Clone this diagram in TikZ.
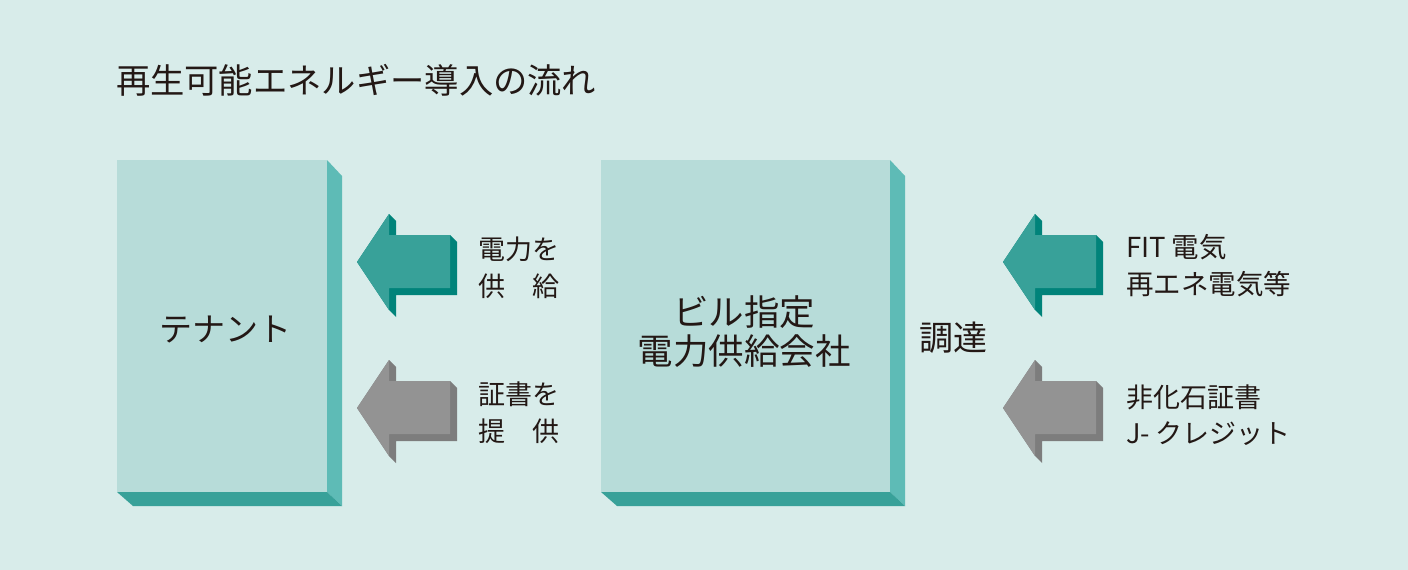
\documentclass[tikz,border=0pt]{standalone}
\usepackage{fontspec}
\setmainfont{Noto Sans CJK JP}
\definecolor{bg}{HTML}{D8ECEA}
\definecolor{boxface}{HTML}{B7DCD9}
\definecolor{boxright}{HTML}{5EBBB6}
\definecolor{boxbottom}{HTML}{38A199}
\definecolor{greenmain}{HTML}{38A199}
\definecolor{greenshade}{HTML}{00837A}
\definecolor{graymain}{HTML}{939393}
\definecolor{grayshade}{HTML}{7D7D7D}
\definecolor{ink}{HTML}{231815}
\newcommand{\flowarrow}[4]{%
  \begin{scope}[shift={(#1,#2)}]
    \fill[#4] (32,-48) -- (39,-41) -- (39,-27) -- (93,-27) -- (100,-20) -- (100,33) -- (39,33) -- (39,55) -- (32,48) -- (0,0) -- cycle;
    \fill[#3] (0,0) -- (32,-48) -- (32,-27) -- (93,-27) -- (93,26) -- (32,26) -- (32,48) -- cycle;
  \end{scope}}
\newcommand{\flowboxsides}[4]{%
  \fill[boxright] (#3,#2) -- ({#3+15},{#2+16}) -- ({#3+15},{#4+14}) -- (#3,#4) -- cycle;
  \fill[boxbottom] (#1,#4) -- (#3,#4) -- ({#3+15},{#4+14}) -- ({#1+16},{#4+14}) -- cycle;}
\begin{document}
\begin{tikzpicture}[x=1pt,y=-1pt,
  faceshape/.style={fill=boxface, draw=none, inner sep=0pt, outer sep=0pt},
  txt/.style={text=ink, inner sep=0pt, outer sep=0pt},
  lbl/.style={txt, anchor=west, align=left, font=\fontsize{27}{37}\selectfont}]
\useasboundingbox (0,0) rectangle (1408,570);
\fill[bg] (0,0) rectangle (1408,570);
% boxes
\flowboxsides{117}{160}{327}{492}
\node[faceshape, minimum width=210pt, minimum height=332pt] (tenantbox) at (222,326) {};
\flowboxsides{601}{160}{890}{492}
\node[faceshape, minimum width=289pt, minimum height=332pt] (supplierbox) at (745.5,326) {};
% arrows
\flowarrow{357}{262}{greenmain}{greenshade}
\flowarrow{357}{408}{graymain}{grayshade}
\flowarrow{1003}{262}{greenmain}{greenshade}
\flowarrow{1003}{408}{graymain}{grayshade}
% texts
\node[txt, anchor=west, font=\fontsize{34.3}{40}\selectfont] (title) at (116,80) {再生可能エネルギー導入の流れ};
\node[txt, font=\fontsize{33}{40}\selectfont] (tenant) at (225,330) {テナント};
\node[txt, align=center, font=\fontsize{35.5}{39}\selectfont] (supplier) at (744,332) {ビル指定\\電力供給会社};
\node[txt, font=\fontsize{34}{40}\selectfont] (procure) at (953,338) {調達};
\node[lbl] (power) at (478,268) {電力を\\供　給};
\node[lbl] (cert) at (478,413) {証書を\\提　供};
\node[lbl, font=\fontsize{27.5}{37}\selectfont] (fit) at (1126,266) {FIT 電気\\再エネ電気等};
\node[lbl, font=\fontsize{27}{36}\selectfont] (nonfossil) at (1126,415) {非化石証書\\J- クレジット};
\end{tikzpicture}
\end{document}
